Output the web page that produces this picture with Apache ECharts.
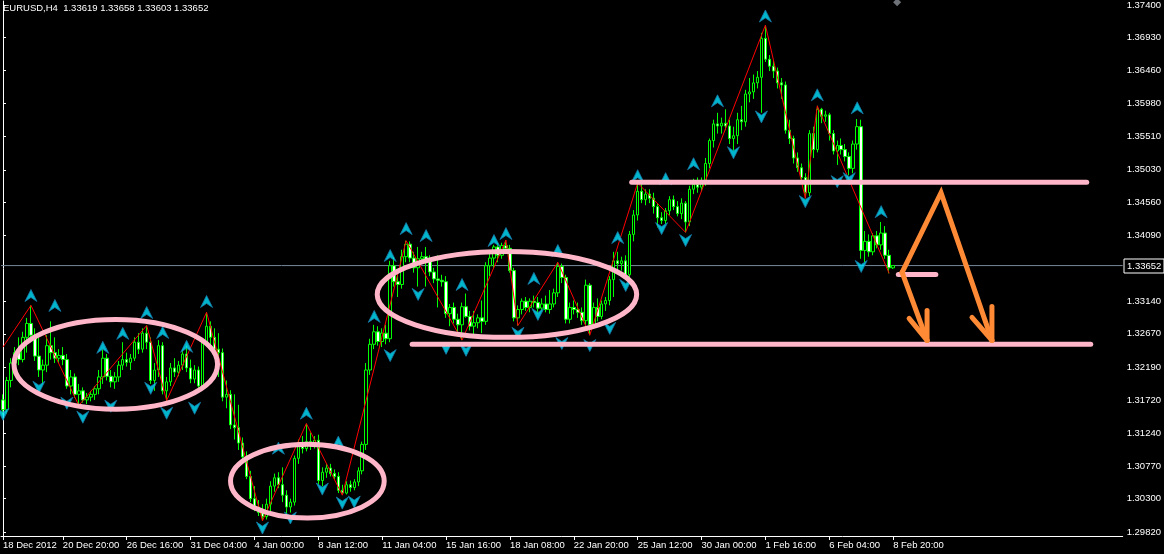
<!DOCTYPE html>
<html><head><meta charset="utf-8">
<script src="https://cdn.jsdelivr.net/npm/echarts@6/dist/echarts.min.js"></script>
<style>html,body{margin:0;padding:0;background:#000;}#c{width:1164px;height:554px;}</style>
</head><body><div id="c"></div>
<script>
const titleText = 'EURUSD,H4  1.33619 1.33658 1.33603 1.33652';
const FONT = 'Liberation Sans';

const open = [1.3172,1.3158,1.3200,1.3225,1.3240,1.3230,1.3262,1.3282,1.3265,1.3235,1.3215,1.3222,1.3250,1.3240,1.3232,1.3236,1.3230,1.3192,1.3205,1.3180,
1.3185,1.3172,1.3176,1.3180,1.3188,1.3205,1.3232,1.3206,1.3198,1.3205,1.3222,1.3230,1.3226,1.3232,1.3255,1.3245,1.3268,1.3255,1.3200,1.3215,
1.3250,1.3185,1.3198,1.3218,1.3212,1.3222,1.3238,1.3218,1.3202,1.3215,1.3192,1.3255,1.3278,1.3262,1.3245,1.3240,1.3176,1.3180,1.3136,1.3132,
1.3110,1.3090,1.3062,1.3030,1.3018,1.3010,1.3004,1.3022,1.3048,1.3060,1.3050,1.3035,1.3018,1.3025,1.3088,1.3108,1.3102,1.3112,1.3108,1.3114,
1.3056,1.3068,1.3074,1.3066,1.3062,1.3042,1.3038,1.3050,1.3046,1.3054,1.3070,1.3108,1.3215,1.3252,1.3270,1.3256,1.3268,1.3260,1.3365,1.3342,
1.3338,1.3378,1.3396,1.3376,1.3362,1.3375,1.3378,1.3374,1.3356,1.3346,1.3344,1.3342,1.3296,1.3305,1.3288,1.3280,1.3306,1.3292,1.3278,1.3283,
1.3290,1.3285,1.3365,1.3376,1.3392,1.3380,1.3394,1.3390,1.3358,1.3290,1.3302,1.3314,1.3305,1.3314,1.3312,1.3304,1.3310,1.3302,1.3310,1.3326,
1.3364,1.3348,1.3288,1.3305,1.3302,1.3298,1.3286,1.3337,1.3280,1.3305,1.3292,1.3310,1.3315,1.3345,1.3372,1.3368,1.3372,1.3352,1.3410,1.3438,
1.3472,1.3460,1.3468,1.3462,1.3450,1.3434,1.3430,1.3444,1.3460,1.3450,1.3440,1.3455,1.3428,1.3475,1.3482,1.3478,1.3486,1.3512,1.3545,1.3569,
1.3566,1.3570,1.3566,1.3548,1.3552,1.3575,1.3572,1.3612,1.3615,1.3628,1.3636,1.3692,1.3662,1.3652,1.3645,1.3628,1.3625,1.3560,1.3548,1.3520,
1.3506,1.3492,1.3470,1.3555,1.3532,1.3590,1.3580,1.3582,1.3555,1.3530,1.3538,1.3532,1.3522,1.3505,1.3540,1.3565,1.3387,1.3400,1.3385,1.3408,
1.3395,1.3412,1.3380,1.33619];
const high = [1.3180,1.3205,1.3232,1.3248,1.3262,1.3270,1.3290,1.3308,1.3275,1.3262,1.3230,1.3265,1.3285,1.3262,1.3245,1.3248,1.3238,1.3215,1.3210,1.3195,
1.3190,1.3182,1.3185,1.3192,1.3215,1.3245,1.3238,1.3215,1.3212,1.3228,1.3255,1.3240,1.3238,1.3262,1.3268,1.3275,1.3279,1.3262,1.3225,1.3258,
1.3255,1.3205,1.3225,1.3232,1.3228,1.3245,1.3250,1.3230,1.3222,1.3220,1.3260,1.3298,1.3285,1.3275,1.3268,1.3246,1.3200,1.3186,1.3180,1.3165,
1.3118,1.3098,1.3070,1.3048,1.3028,1.3022,1.3030,1.3055,1.3066,1.3068,1.3075,1.3042,1.3030,1.3092,1.3115,1.3120,1.3138,1.3125,1.3120,1.3122,
1.3075,1.3080,1.3080,1.3072,1.3068,1.3050,1.3055,1.3056,1.3058,1.3075,1.3112,1.3225,1.3260,1.3280,1.3278,1.3275,1.3280,1.3372,1.3378,1.3355,
1.3388,1.3401,1.3400,1.3385,1.3392,1.3385,1.3392,1.3380,1.3362,1.3380,1.3352,1.3350,1.3310,1.3312,1.3296,1.3312,1.3325,1.3300,1.3300,1.3295,
1.3315,1.3370,1.3382,1.3395,1.3398,1.3398,1.3402,1.3395,1.3362,1.3308,1.3318,1.3320,1.3318,1.3322,1.3320,1.3318,1.3322,1.3330,1.3332,1.3370,
1.3368,1.3352,1.3312,1.3315,1.3312,1.3305,1.3345,1.3340,1.3312,1.3318,1.3315,1.3320,1.3350,1.3385,1.3385,1.3378,1.3380,1.3415,1.3445,1.3484,
1.3482,1.3475,1.3475,1.3470,1.3455,1.3442,1.3448,1.3465,1.3466,1.3458,1.3462,1.3458,1.3480,1.3490,1.3492,1.3492,1.3520,1.3548,1.3575,1.3585,
1.3578,1.3590,1.3575,1.3565,1.3585,1.3595,1.3618,1.3635,1.3640,1.3645,1.3700,1.3711,1.3668,1.3660,1.3650,1.3635,1.3630,1.3575,1.3552,1.3528,
1.3512,1.3498,1.3560,1.3565,1.3595,1.3592,1.3588,1.3585,1.3560,1.3545,1.3548,1.3540,1.3528,1.3545,1.3576,1.3575,1.3415,1.3410,1.3412,1.3415,
1.3428,1.3422,1.3388,1.33658];
const low = [1.3150,1.3152,1.3190,1.3212,1.3222,1.3226,1.3240,1.3255,1.3228,1.3205,1.3195,1.3212,1.3230,1.3225,1.3225,1.3222,1.3188,1.3180,1.3175,1.3164,
1.3168,1.3166,1.3170,1.3172,1.3180,1.3195,1.3200,1.3190,1.3188,1.3198,1.3215,1.3220,1.3215,1.3228,1.3238,1.3240,1.3245,1.3195,1.3185,1.3205,
1.3180,1.3171,1.3192,1.3205,1.3206,1.3215,1.3212,1.3196,1.3196,1.3188,1.3188,1.3250,1.3245,1.3235,1.3205,1.3170,1.3160,1.3130,1.3115,1.3100,
1.3085,1.3058,1.3025,1.3012,1.3005,1.2998,1.3000,1.3010,1.3040,1.3045,1.3025,1.3005,1.3010,1.3020,1.3080,1.3095,1.3098,1.3100,1.3102,1.3050,
1.3048,1.3060,1.3062,1.3058,1.3038,1.3035,1.3036,1.3040,1.3042,1.3048,1.3065,1.3100,1.3208,1.3245,1.3250,1.3248,1.3252,1.3255,1.3335,1.3320,
1.3332,1.3370,1.3370,1.3355,1.3335,1.3368,1.3335,1.3350,1.3340,1.3305,1.3335,1.3290,1.3278,1.3282,1.3270,1.3258,1.3290,1.3272,1.3262,1.3275,
1.3268,1.3280,1.3350,1.3362,1.3370,1.3375,1.3385,1.3355,1.3285,1.3279,1.3295,1.3300,1.3298,1.3305,1.3296,1.3300,1.3298,1.3296,1.3305,1.3320,
1.3340,1.3282,1.3282,1.3295,1.3290,1.3280,1.3280,1.3265,1.3275,1.3285,1.3288,1.3300,1.3308,1.3320,1.3360,1.3358,1.3345,1.3348,1.3400,1.3430,
1.3455,1.3452,1.3455,1.3440,1.3420,1.3425,1.3425,1.3438,1.3445,1.3436,1.3432,1.3413,1.3422,1.3468,1.3470,1.3472,1.3480,1.3505,1.3535,1.3555,
1.3555,1.3560,1.3540,1.3530,1.3540,1.3560,1.3565,1.3600,1.3605,1.3620,1.3585,1.3658,1.3645,1.3635,1.3620,1.3605,1.3555,1.3540,1.3512,1.3500,
1.3488,1.3462,1.3465,1.3520,1.3528,1.3570,1.3572,1.3545,1.3525,1.3510,1.3525,1.3515,1.3495,1.3498,1.3532,1.3375,1.3370,1.3378,1.3380,1.3390,
1.3388,1.3375,1.3354,1.33603];
const close = [1.3158,1.3200,1.3225,1.3240,1.3230,1.3262,1.3282,1.3265,1.3235,1.3215,1.3222,1.3250,1.3240,1.3232,1.3236,1.3230,1.3192,1.3205,1.3180,1.3185,
1.3172,1.3176,1.3180,1.3188,1.3205,1.3232,1.3206,1.3198,1.3205,1.3222,1.3230,1.3226,1.3232,1.3255,1.3245,1.3268,1.3255,1.3200,1.3215,1.3250,
1.3185,1.3198,1.3218,1.3212,1.3222,1.3238,1.3218,1.3202,1.3215,1.3192,1.3255,1.3278,1.3262,1.3245,1.3240,1.3176,1.3180,1.3136,1.3132,1.3110,
1.3090,1.3062,1.3030,1.3018,1.3010,1.3004,1.3022,1.3048,1.3060,1.3050,1.3035,1.3018,1.3025,1.3088,1.3108,1.3102,1.3112,1.3108,1.3114,1.3056,
1.3068,1.3074,1.3066,1.3062,1.3042,1.3038,1.3050,1.3046,1.3054,1.3070,1.3108,1.3215,1.3252,1.3270,1.3256,1.3268,1.3260,1.3365,1.3342,1.3338,
1.3378,1.3396,1.3376,1.3362,1.3375,1.3378,1.3374,1.3356,1.3346,1.3344,1.3342,1.3296,1.3305,1.3288,1.3280,1.3306,1.3292,1.3278,1.3283,1.3290,
1.3285,1.3365,1.3376,1.3392,1.3380,1.3394,1.3390,1.3358,1.3290,1.3302,1.3314,1.3305,1.3314,1.3312,1.3304,1.3310,1.3302,1.3310,1.3326,1.3364,
1.3348,1.3288,1.3305,1.3302,1.3298,1.3286,1.3337,1.3280,1.3305,1.3292,1.3310,1.3315,1.3345,1.3372,1.3368,1.3372,1.3352,1.3410,1.3438,1.3472,
1.3460,1.3468,1.3462,1.3450,1.3434,1.3430,1.3444,1.3460,1.3450,1.3440,1.3455,1.3428,1.3475,1.3482,1.3478,1.3486,1.3512,1.3545,1.3569,1.3566,
1.3570,1.3566,1.3548,1.3552,1.3575,1.3572,1.3612,1.3615,1.3628,1.3636,1.3692,1.3662,1.3652,1.3645,1.3628,1.3625,1.3560,1.3548,1.3520,1.3506,
1.3492,1.3470,1.3555,1.3532,1.3590,1.3580,1.3582,1.3555,1.3530,1.3538,1.3532,1.3522,1.3505,1.3540,1.3565,1.3387,1.3400,1.3385,1.3408,1.3395,
1.3412,1.3380,1.3362,1.33652];

// time-axis tick labels (bar index -> text)
const tickIndex = [0,15,31,47,63,79,95,111,127,143,159,175,191,207,223];
const tickText = ['18 Dec 2012','20 Dec 20:00','26 Dec 16:00','31 Dec 04:00','4 Jan 00:00','8 Jan 12:00','11 Jan 04:00','15 Jan 16:00','18 Jan 08:00','22 Jan 20:00','25 Jan 12:00','30 Jan 00:00','1 Feb 16:00','6 Feb 04:00','8 Feb 20:00'];
// price-axis tick labels
const priceTicks = [1.37400,1.36930,1.36460,1.35980,1.35510,1.35030,1.34560,1.34090,1.33140,1.32670,1.32190,1.31720,1.31240,1.30770,1.30300,1.29820];
const bidPrice = 1.33652;

// ZigZag pivots [bar index, price]
const zigzag = [[0,1.3248],[7,1.3308],[19,1.3164],[36,1.3279],[41,1.3171],[51,1.3298],[65,1.2998],[76,1.3138],[85,1.3035],[101,1.3401],[115,1.3258],[126,1.3402],[129,1.3279],[139,1.3370],[147,1.3265],[159,1.3484],[171,1.3413],[191,1.3711],[201,1.3462],[204,1.3595],[222,1.3354]];
// fractal arrows [bar index, price]
const upArrows = [[7,1.33222],[13,1.33079],[25,1.32476],[30,1.32677],[36,1.32978],[40,1.32691],[46,1.32490],[51,1.33136],[69,1.31026],[76,1.31528],[84,1.31112],[93,1.32921],[97,1.33797],[101,1.34184],[106,1.34084],[115,1.33380],[123,1.34012],[126,1.34113],[133,1.33467],[139,1.33868],[154,1.34055],[159,1.34945],[166,1.34902],[173,1.35117],[179,1.36022],[191,1.37242],[204,1.36108],[214,1.35921],[220,1.34428]];
const downArrows = [[0,1.31514],[9,1.31902],[16,1.31672],[20,1.31471],[27,1.31629],[37,1.31887],[41,1.31528],[48,1.31600],[65,1.29877],[72,1.30021],[80,1.30437],[85,1.30236],[88,1.30251],[97,1.32357],[104,1.33237],[111,1.32462],[116,1.32433],[129,1.32677],[134,1.32950],[140,1.32531],[147,1.32502],[152,1.32749],[156,1.33366],[165,1.34184],[171,1.34012],[183,1.35275],[190,1.35790],[201,1.34572],[209,1.34859],[212,1.34902],[215,1.33639]];

// hand-drawn annotations in data space
const pinkLines = [[157.5,271.5,1.34852],[102.5,272.5,1.32519],[224.3,233.7,1.33524]];
const ellipses = [[28.25,1.32232,25.5,0.00646],[76.25,1.30552,19.25,0.00531],[126.25,1.33237,32.5,0.00617]];
const orangePaths = [
  [[225.25,1.33553],[235,1.34701],[247.75,1.32576]],
  [[225.25,1.33553],[231.5,1.32576]],
  [[231.5,1.33007],[231.5,1.32576]],
  [[227,1.32892],[231.5,1.32576]],
  [[247.75,1.33065],[247.75,1.32576]],
  [[242.75,1.32907],[247.75,1.32576]]
];
const topMarker = [[224,1.3744]];

const SLOTS = 281;
const categories = Array.from({length: SLOTS}, (_, i) => String(i));
const ohlc = open.map((o, i) => [o, close[i], low[i], high[i]]);

const chart = echarts.init(document.getElementById('c'), null, {renderer: 'canvas'});
const upPath = 'path://M6,0 L12,12 L6,8 L0,12 Z';
const downPath = 'path://M0,0 L6,4 L12,0 L6,12 Z';

const option = {
  backgroundColor: '#000',
  animation: false,
  grid: {left: 0, right: 40, top: 0, bottom: 18, containLabel: false},
  xAxis: [{
    type: 'category', data: categories, boundaryGap: true,
    axisLine: {show: true, onZero: false, lineStyle: {color: '#fff', width: 1}},
    axisTick: {show: true, alignWithLabel: true, length: 4, interval: (i) => tickIndex.includes(i), lineStyle: {color: '#fff'}},
    axisLabel: {show: true, interval: (i) => tickIndex.includes(i), formatter: (v, i) => tickText[tickIndex.indexOf(Number(v))] || '',
      color: '#fff', fontSize: 9.5, fontFamily: FONT, align: 'left', margin: 4, hideOverlap: false},
    splitLine: {show: false}
  }, {
    type: 'value', min: -0.5, max: SLOTS - 0.5, show: false
  }],
  yAxis: [{
    type: 'value', position: 'right', min: 1.297626, max: 1.374574, scale: true,
    axisLine: {show: true, lineStyle: {color: '#fff', width: 1}},
    axisTick: {show: true, customValues: priceTicks, length: 3, lineStyle: {color: '#fff'}},
    axisLabel: {customValues: priceTicks, formatter: (v) => v.toFixed(5), color: '#fff', fontSize: 9.5, fontFamily: FONT, margin: 4},
    splitLine: {show: false}
  }],
  series: [
    {type: 'line', xAxisIndex: 1, data: [[-0.5, bidPrice], [SLOTS - 0.5, bidPrice]], symbol: 'none',
     lineStyle: {color: '#778899', width: 1}, z: 1, silent: true},
    {type: 'candlestick', xAxisIndex: 0, data: ohlc, barWidth: 3, z: 2,
     itemStyle: {color: '#000000', color0: '#ffffff', borderColor: '#00ff00', borderColor0: '#00ff00', borderWidth: 1}},
    {type: 'line', xAxisIndex: 1, data: zigzag, symbol: 'none', lineStyle: {color: '#ff0000', width: 1}, z: 3},
    {type: 'scatter', xAxisIndex: 1, data: upArrows, symbol: upPath, symbolSize: [12, 12], z: 4,
     itemStyle: {color: '#00e4ff', borderColor: '#1878a8', borderWidth: 1}},
    {type: 'scatter', xAxisIndex: 1, data: downArrows, symbol: downPath, symbolSize: [12, 12], z: 4,
     itemStyle: {color: '#00e4ff', borderColor: '#1878a8', borderWidth: 1}},
    {type: 'scatter', xAxisIndex: 1, data: topMarker, symbol: 'diamond', symbolSize: [8, 8], z: 4,
     itemStyle: {color: '#8a8f96'}}
  ].concat(pinkLines.map(([a, b, p]) => ({
    type: 'line', xAxisIndex: 1, data: [[a, p], [b, p]], symbol: 'none', z: 5,
    lineStyle: {color: '#ffb6c8', width: 5, cap: 'round'}
  })))
};
chart.setOption(option);

function px(pt) { return chart.convertToPixel({xAxisIndex: 1, yAxisIndex: 0}, pt); }
const graphics = [];
ellipses.forEach(([cx, cy, rx, ry]) => {
  const c = px([cx, cy]);
  const e = px([cx + rx, cy + ry]);
  graphics.push({type: 'ellipse', z: 100, silent: true,
    shape: {cx: c[0], cy: c[1], rx: Math.abs(e[0] - c[0]), ry: Math.abs(e[1] - c[1])},
    style: {fill: 'none', stroke: '#ffb6c8', lineWidth: 5}});
});
orangePaths.forEach(path => {
  graphics.push({type: 'polyline', z: 101, silent: true,
    shape: {points: path.map(px)},
    style: {fill: 'none', stroke: '#ff8a35', lineWidth: 5, lineJoin: 'miter', lineCap: 'round'}});
});
const by = px([0, bidPrice])[1];
graphics.push({type: 'rect', z: 102, shape: {x: 1124, y: Math.round(by) - 7, width: 40, height: 14},
  style: {fill: '#000', stroke: '#ffffff', lineWidth: 1}});
graphics.push({type: 'text', z: 103, x: 1127, y: Math.round(by),
  style: {text: bidPrice.toFixed(5), fill: '#fff', font: '9.5px "Liberation Sans"', textVerticalAlign: 'middle'}});
graphics.push({type: 'text', z: 103, x: 3, y: 3,
  style: {text: titleText, fill: '#fff', font: '9.5px "Liberation Sans"', textVerticalAlign: 'top'}});
chart.setOption({graphic: graphics});
</script></body></html>
